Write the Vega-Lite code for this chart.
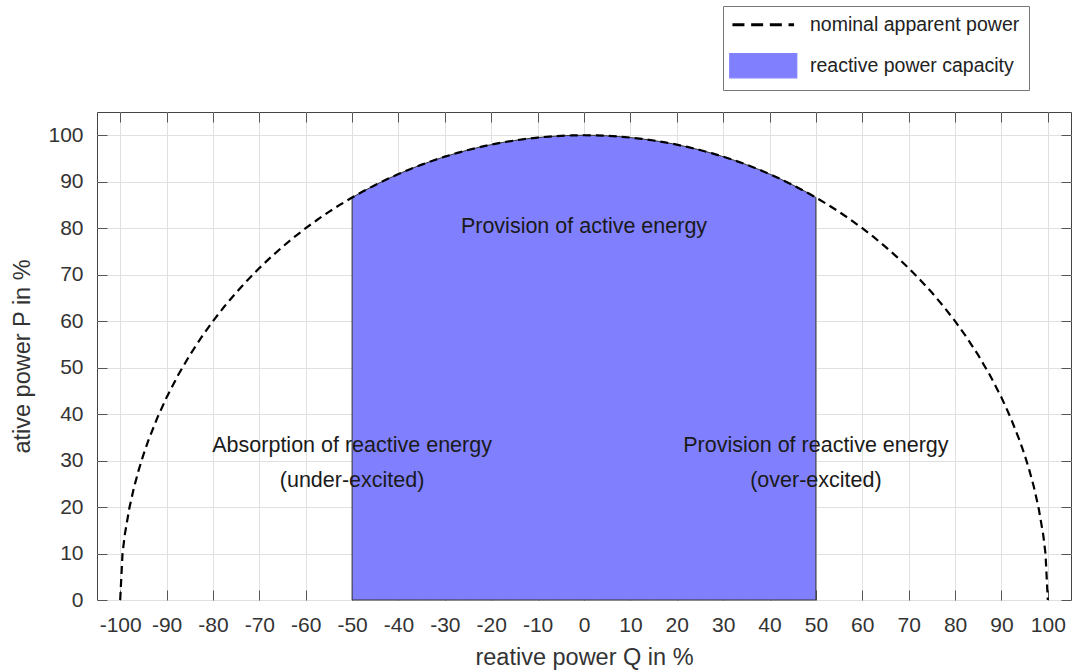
{
  "$schema": "https://vega.github.io/schema/vega-lite/v6.json",
  "width": 974,
  "height": 488,
  "autosize": "none",
  "padding": {"left": 97, "top": 112, "right": 1, "bottom": 72},
  "background": "white",
  "config": {
    "font": "Liberation Sans",
    "view": {"stroke": "#444", "strokeWidth": 1},
    "axis": {
      "domain": false,
      "tickColor": "#555",
      "tickSize": -10,
      "tickWidth": 1,
      "gridColor": "#e0e0e0",
      "gridWidth": 1,
      "labelFontSize": 21,
      "labelColor": "#333",
      "labelFont": "Liberation Sans",
      "titleFont": "Liberation Sans",
      "titleFontSize": 23.5,
      "titleFontWeight": "normal",
      "titleColor": "#333",
      "labelFlush": false,
      "labelOverlap": false,
      "labelExpr": "'' + datum.value"
    }
  },
  "datasets": {
    "arc": [
      {"Q": -100, "P": 0}, {"Q": -99.5, "P": 9.987}, {"Q": -99, "P": 14.107}, {"Q": -98, "P": 19.9}, {"Q": -97, "P": 24.31}, {"Q": -96, "P": 28.0}, {"Q": -95, "P": 31.225}, {"Q": -94, "P": 34.117}, {"Q": -92, "P": 39.192}, {"Q": -90, "P": 43.589}, {"Q": -87.5, "P": 48.412}, {"Q": -85, "P": 52.678}, {"Q": -82.5, "P": 56.513}, {"Q": -80, "P": 60}, {"Q": -77.5, "P": 63.196}, {"Q": -75, "P": 66.144}, {"Q": -72.5, "P": 68.875}, {"Q": -70, "P": 71.414}, {"Q": -67.5, "P": 73.782}, {"Q": -65, "P": 75.993}, {"Q": -62.5, "P": 78.062}, {"Q": -60, "P": 80}, {"Q": -57.5, "P": 81.815}, {"Q": -55, "P": 83.516}, {"Q": -52.5, "P": 85.11}, {"Q": -50, "P": 86.603}, {"Q": -47.5, "P": 87.999}, {"Q": -45, "P": 89.303}, {"Q": -42.5, "P": 90.519}, {"Q": -40, "P": 91.652}, {"Q": -37.5, "P": 92.703}, {"Q": -35, "P": 93.675}, {"Q": -32.5, "P": 94.571}, {"Q": -30, "P": 95.394}, {"Q": -27.5, "P": 96.144}, {"Q": -25, "P": 96.825}, {"Q": -22.5, "P": 97.436}, {"Q": -20, "P": 97.98}, {"Q": -17.5, "P": 98.457}, {"Q": -15, "P": 98.869}, {"Q": -12.5, "P": 99.216}, {"Q": -10, "P": 99.499}, {"Q": -7.5, "P": 99.718}, {"Q": -5, "P": 99.875}, {"Q": -2.5, "P": 99.969},
      {"Q": 0, "P": 100},
      {"Q": 2.5, "P": 99.969}, {"Q": 5, "P": 99.875}, {"Q": 7.5, "P": 99.718}, {"Q": 10, "P": 99.499}, {"Q": 12.5, "P": 99.216}, {"Q": 15, "P": 98.869}, {"Q": 17.5, "P": 98.457}, {"Q": 20, "P": 97.98}, {"Q": 22.5, "P": 97.436}, {"Q": 25, "P": 96.825}, {"Q": 27.5, "P": 96.144}, {"Q": 30, "P": 95.394}, {"Q": 32.5, "P": 94.571}, {"Q": 35, "P": 93.675}, {"Q": 37.5, "P": 92.703}, {"Q": 40, "P": 91.652}, {"Q": 42.5, "P": 90.519}, {"Q": 45, "P": 89.303}, {"Q": 47.5, "P": 87.999}, {"Q": 50, "P": 86.603}, {"Q": 52.5, "P": 85.11}, {"Q": 55, "P": 83.516}, {"Q": 57.5, "P": 81.815}, {"Q": 60, "P": 80}, {"Q": 62.5, "P": 78.062}, {"Q": 65, "P": 75.993}, {"Q": 67.5, "P": 73.782}, {"Q": 70, "P": 71.414}, {"Q": 72.5, "P": 68.875}, {"Q": 75, "P": 66.144}, {"Q": 77.5, "P": 63.196}, {"Q": 80, "P": 60}, {"Q": 82.5, "P": 56.513}, {"Q": 85, "P": 52.678}, {"Q": 87.5, "P": 48.412}, {"Q": 90, "P": 43.589}, {"Q": 92, "P": 39.192}, {"Q": 94, "P": 34.117}, {"Q": 95, "P": 31.225}, {"Q": 96, "P": 28.0}, {"Q": 97, "P": 24.31}, {"Q": 98, "P": 19.9}, {"Q": 99, "P": 14.107}, {"Q": 99.5, "P": 9.987}, {"Q": 100, "P": 0}
    ],
    "notes": [
      {"Q": 0, "P": 78.9, "t": "Provision of active energy"},
      {"Q": -50, "P": 31.8, "t": "Absorption of reactive energy"},
      {"Q": -50, "P": 24.4, "t": "(under-excited)"},
      {"Q": 50, "P": 31.8, "t": "Provision of reactive energy"},
      {"Q": 50, "P": 24.4, "t": "(over-excited)"}
    ]
  },
  "layer": [
    {
      "data": {"name": "arc"},
      "transform": [{"filter": "abs(datum.Q) <= 50"}],
      "mark": {"type": "area", "stroke": "#333", "strokeWidth": 1},
      "encoding": {
        "x": {"field": "Q", "type": "quantitative", "axis": null, "scale": {"domain": [-105, 105], "nice": false, "zero": false}},
        "y": {"field": "P", "type": "quantitative", "axis": null, "scale": {"domain": [0, 105], "nice": false}},
        "color": {"datum": "reactive power capacity", "type": "nominal"}
      }
    },
    {
      "data": {"name": "arc"},
      "mark": {"type": "line", "strokeDash": [8, 5], "strokeWidth": 2.2},
      "encoding": {
        "x": {
          "field": "Q", "type": "quantitative",
          "scale": {"domain": [-105, 105], "nice": false, "zero": false},
          "axis": {
            "orient": "bottom", "title": "reative power Q in %", "grid": true,
            "values": [-100, -90, -80, -70, -60, -50, -40, -30, -20, -10, 0, 10, 20, 30, 40, 50, 60, 70, 80, 90, 100],
            "labelPadding": 24, "titlePadding": 10
          }
        },
        "y": {
          "field": "P", "type": "quantitative",
          "scale": {"domain": [0, 105], "nice": false},
          "axis": {
            "orient": "left", "title": "ative power P in %", "grid": true,
            "values": [0, 10, 20, 30, 40, 50, 60, 70, 80, 90, 100],
            "labelPadding": 24, "titlePadding": 13
          }
        },
        "color": {
          "datum": "nominal apparent power", "type": "nominal",
          "scale": {"domain": ["nominal apparent power", "reactive power capacity"], "range": ["black", "#8080ff"]},
          "legend": {
            "title": null,
            "orient": "none",
            "legendX": 626,
            "legendY": -106,
            "direction": "vertical",
            "strokeColor": "#777",
            "fillColor": "white",
            "padding": 9,
            "labelFontSize": 19.5,
            "labelColor": "#222",
            "labelFont": "Liberation Sans",
            "labelLimit": 400,
            "symbolSize": 576,
            "symbolOffset": 21.5,
            "labelOffset": 37,
            "rowPadding": 16,
            "symbolStrokeColor": "#222",
            "encode": {
              "symbols": {
                "enter": {
                  "stroke": {"value": "#222"}
                },
                "update": {
                  "shape": {"signal": "datum.value === 'nominal apparent power' ? 'M-0.92,0H0.92' : 'M-1,-0.36H1V0.36H-1Z'"},
                  "size": {"value": 4489},
                  "fill": {"signal": "datum.value === 'nominal apparent power' ? 'transparent' : '#8080ff'"},
                  "stroke": {"signal": "'#222'"},
                  "strokeWidth": {"signal": "datum.value === 'nominal apparent power' ? 3 : 1.2"},
                  "strokeDash": {"signal": "datum.value === 'nominal apparent power' ? [12, 6.7] : [100, 0]"},
                  "strokeOpacity": {"value": 1},
                  "opacity": {"value": 1}
                }
              }
            }
          }
        }
      }
    },
    {
      "data": {"name": "notes"},
      "mark": {"type": "text", "align": "center", "baseline": "alphabetic", "fontSize": 21.5, "color": "#1a1a1a", "font": "Liberation Sans"},
      "encoding": {
        "x": {
          "field": "Q", "type": "quantitative",
          "scale": {"domain": [-105, 105], "nice": false, "zero": false},
          "axis": {"orient": "top", "title": null, "labels": false, "grid": false,
            "values": [-100, -90, -80, -70, -60, -50, -40, -30, -20, -10, 0, 10, 20, 30, 40, 50, 60, 70, 80, 90, 100]}
        },
        "y": {
          "field": "P", "type": "quantitative",
          "scale": {"domain": [0, 105], "nice": false},
          "axis": {"orient": "right", "title": null, "labels": false, "grid": false,
            "values": [0, 10, 20, 30, 40, 50, 60, 70, 80, 90, 100]}
        },
        "text": {"field": "t"}
      }
    }
  ],
  "resolve": {"axis": {"x": "independent", "y": "independent"}}
}
